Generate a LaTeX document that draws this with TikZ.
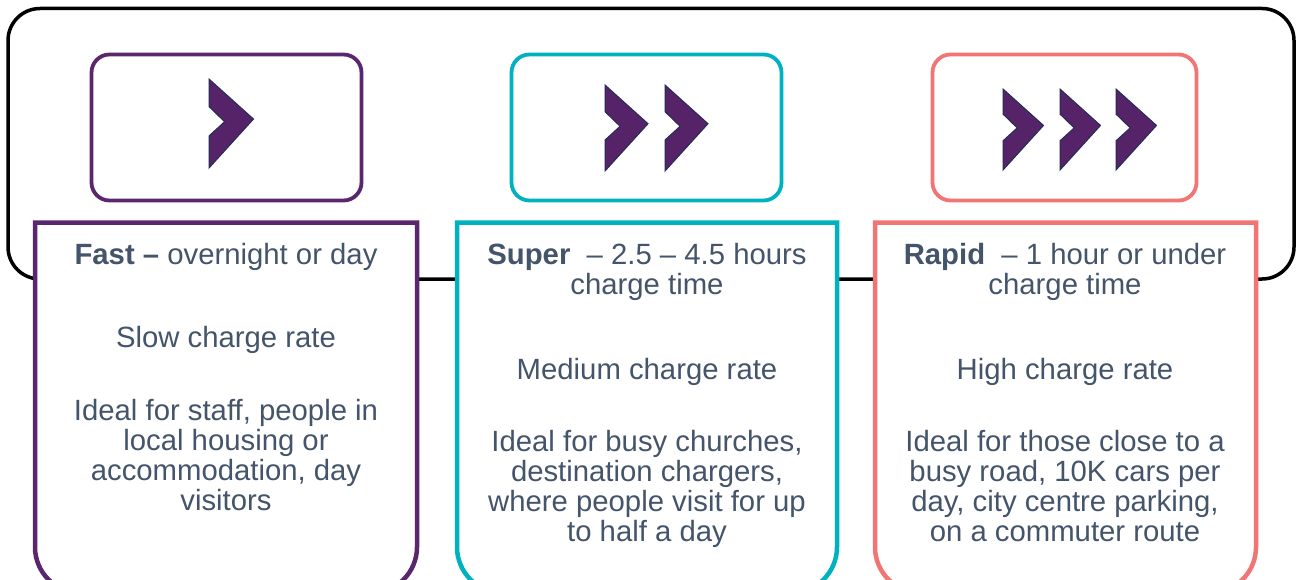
\documentclass[tikz,border=0pt]{standalone}
\usepackage{fontspec}
\setmainfont{Liberation Sans}
\definecolor{plum}{RGB}{90,38,110}
\definecolor{lagoon}{RGB}{0,177,191}
\definecolor{coral}{RGB}{241,117,117}
\definecolor{slate}{RGB}{68,84,106}
\definecolor{arrowfill}{RGB}{87,35,104}
\definecolor{arrowedge}{RGB}{35,45,85}
\begin{document}
\begin{tikzpicture}[x=1pt, y=-1pt,
  panel/.style = {draw=black, line width=3.5pt, rounded corners=32pt},
  iconbox/.style = {draw=#1, line width=3.8pt, rounded corners=18pt,
    minimum width=270pt, minimum height=146pt},
  infobox/.style = {draw=#1, fill=white, line width=4.5pt},
  chevron/.style = {fill=arrowfill, draw=arrowedge, line width=1pt},
  every node/.style = {text=slate, align=center, inner sep=0pt, anchor=north,
    font=\fontsize{29.3}{30}\selectfont}
  ]
  \useasboundingbox (0,0) rectangle (1297,580);
  \node[panel, minimum width=1286pt, minimum height=270.5pt, anchor=center] (frame) at (651,143.75) {};
  % icon boxes
  \node[iconbox=plum, anchor=center] (fastIcon) at (226.5,127.5) {};
  \node[iconbox=lagoon, anchor=center] (superIcon) at (646.5,127.5) {};
  \node[iconbox=coral, anchor=center, minimum width=264pt] (rapidIcon) at (1064.5,127.5) {};
  \foreach \cx/\cy/\ch in {209/79/89, 605/85/86, 665/85/86, 1003/89/81, 1060/89/81, 1116/89/81}
    \draw[chevron] (\cx,\cy) -- ({\cx+0.5*\ch},{\cy+0.45*\ch}) -- (\cx,{\cy+\ch})
      -- (\cx,{\cy+0.64*\ch}) -- ({\cx+0.175*\ch},{\cy+0.48*\ch}) -- (\cx,{\cy+0.31*\ch}) -- cycle;
  % info boxes, open at the bottom of the page
  \draw[infobox=plum] (35,222.5) [rounded corners=46pt] -- (35,593) -- (417,593) [sharp corners] -- (417,222.5) -- cycle;
  \draw[infobox=lagoon] (457,222.5) [rounded corners=46pt] -- (457,593) -- (837,593) [sharp corners] -- (837,222.5) -- cycle;
  \draw[infobox=coral] (875,222.5) [rounded corners=46pt] -- (875,593) -- (1256,593) [sharp corners] -- (1256,222.5) -- cycle;
  \node (fastHead) at (226,243) {\textbf{Fast –} overnight or day};
  \node (fastRate) at (226,326) {Slow charge rate};
  \node (fastUse) at (226,399) {Ideal for staff, people in\\local housing or\\accommodation, day\\visitors};
  \node (superHead) at (647,243) {\textbf{Super}\ \ – 2.5 – 4.5 hours\\charge time};
  \node (superRate) at (647,358) {Medium charge rate};
  \node (superUse) at (647,430) {Ideal for busy churches,\\destination chargers,\\where people visit for up\\to half a day};
  \node (rapidHead) at (1065,243) {\textbf{Rapid}\ \ – 1 hour or under\\charge time};
  \node (rapidRate) at (1065,358) {High charge rate};
  \node (rapidUse) at (1065,430) {Ideal for those close to a\\busy road, 10K cars per\\day, city centre parking,\\on a commuter route};
\end{tikzpicture}
\end{document}
